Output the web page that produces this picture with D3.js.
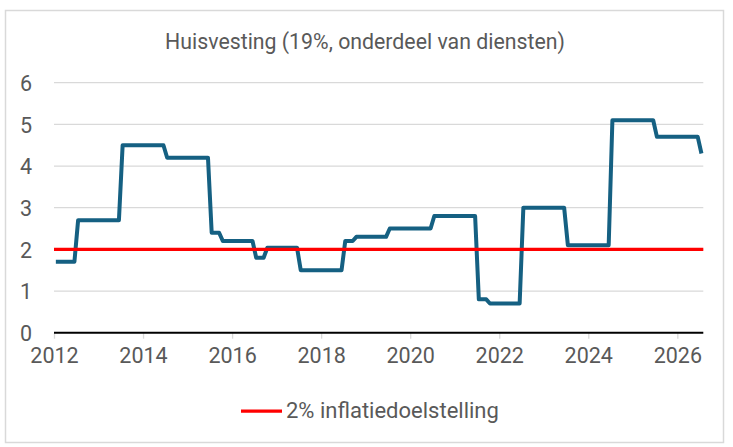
<!DOCTYPE html>
<html>
<head>
<meta charset="utf-8">
<script src="https://cdn.jsdelivr.net/npm/d3@7"></script>
<style>
  html, body { margin: 0; padding: 0; background: #fff; }
  svg { display: block; }
  text { font-family: Roboto, "Open Sans", sans-serif; fill: #595959; }
</style>
</head>
<body>
<svg id="chart"></svg>
<script>
// Monthly values, Jan 2012 - Jul 2026 (one row per year)
const housing = [
  1.7, 1.7, 1.7, 1.7, 1.7, 1.7, 2.7, 2.7, 2.7, 2.7, 2.7, 2.7,
  2.7, 2.7, 2.7, 2.7, 2.7, 2.7, 4.5, 4.5, 4.5, 4.5, 4.5, 4.5,
  4.5, 4.5, 4.5, 4.5, 4.5, 4.5, 4.2, 4.2, 4.2, 4.2, 4.2, 4.2,
  4.2, 4.2, 4.2, 4.2, 4.2, 4.2, 2.4, 2.4, 2.4, 2.2, 2.2, 2.2,
  2.2, 2.2, 2.2, 2.2, 2.2, 2.2, 1.8, 1.8, 1.8, 2.04, 2.04, 2.04,
  2.04, 2.04, 2.04, 2.04, 2.04, 2.04, 1.5, 1.5, 1.5, 1.5, 1.5, 1.5,
  1.5, 1.5, 1.5, 1.5, 1.5, 1.5, 2.2, 2.2, 2.2, 2.3, 2.3, 2.3,
  2.3, 2.3, 2.3, 2.3, 2.3, 2.3, 2.5, 2.5, 2.5, 2.5, 2.5, 2.5,
  2.5, 2.5, 2.5, 2.5, 2.5, 2.5, 2.8, 2.8, 2.8, 2.8, 2.8, 2.8,
  2.8, 2.8, 2.8, 2.8, 2.8, 2.8, 0.8, 0.8, 0.8, 0.7, 0.7, 0.7,
  0.7, 0.7, 0.7, 0.7, 0.7, 0.7, 3.0, 3.0, 3.0, 3.0, 3.0, 3.0,
  3.0, 3.0, 3.0, 3.0, 3.0, 3.0, 2.1, 2.1, 2.1, 2.1, 2.1, 2.1,
  2.1, 2.1, 2.1, 2.1, 2.1, 2.1, 5.1, 5.1, 5.1, 5.1, 5.1, 5.1,
  5.1, 5.1, 5.1, 5.1, 5.1, 5.1, 4.7, 4.7, 4.7, 4.7, 4.7, 4.7,
  4.7, 4.7, 4.7, 4.7, 4.7, 4.7, 4.3
];
const target = 2;
const yearLabels = ["2012", "2014", "2016", "2018", "2020", "2022", "2024", "2026"];
const yTicks = [0, 1, 2, 3, 4, 5, 6];
const title = "Huisvesting (19%, onderdeel van diensten)";
const legendLabel = "2% inflatiedoelstelling";

const width = 733, height = 447;
const plotLeft = 54, plotRight = 703.3, plotTop = 82.7, plotBottom = 332.7;

const svg = d3.select("#chart").attr("width", width).attr("height", height);

// Chart frame
svg.append("rect")
  .attr("x", 5.5).attr("y", 10.5)
  .attr("width", 718).attr("height", 432)
  .attr("fill", "#fff")
  .attr("stroke", "#d9d9d9")
  .attr("stroke-width", 1.5);

const x = d3.scaleLinear().domain([0, housing.length]).range([plotLeft, plotRight]);
const y = d3.scaleLinear().domain([0, 6]).range([plotBottom, plotTop]);

// Gridlines
svg.append("g")
  .selectAll("line")
  .data(yTicks.filter(d => d > 0))
  .join("line")
  .attr("x1", plotLeft).attr("x2", plotRight)
  .attr("y1", d => y(d)).attr("y2", d => y(d))
  .attr("stroke", "#d9d9d9")
  .attr("stroke-width", 1.3);

// Y axis labels
const yAxis = svg.append("g")
  .attr("transform", `translate(${plotLeft},0)`)
  .call(d3.axisLeft(y).tickValues(yTicks).tickFormat(d3.format("d")).tickSize(0).tickPadding(22));
yAxis.select(".domain").remove();
yAxis.selectAll("text")
  .attr("font-size", 21.5)
  .attr("font-family", null)
  .attr("fill", "#595959")
  .attr("dy", "0.36em");

// X axis with tick marks every 24 months
const xAxis = svg.append("g")
  .attr("transform", `translate(0,${plotBottom})`)
  .call(d3.axisBottom(x)
    .tickValues(yearLabels.map((d, i) => i * 24))
    .tickFormat((d, i) => yearLabels[i])
    .tickSize(6)
    .tickPadding(9));
xAxis.select(".domain").remove();
xAxis.selectAll(".tick line").attr("stroke", "#d9d9d9").attr("stroke-width", 1.3);
xAxis.selectAll("text")
  .attr("font-size", 21.5)
  .attr("font-family", null)
  .attr("fill", "#595959");

// Zero baseline
svg.append("line")
  .attr("x1", plotLeft).attr("x2", plotRight)
  .attr("y1", y(0)).attr("y2", y(0))
  .attr("stroke", "#000")
  .attr("stroke-width", 2);

// Housing inflation line
const line = d3.line()
  .x((d, i) => x(i + 0.5))
  .y(d => y(d));

svg.append("path")
  .datum(housing)
  .attr("d", line)
  .attr("fill", "none")
  .attr("stroke", "#156082")
  .attr("stroke-width", 4)
  .attr("stroke-linejoin", "round");

// 2% target line
svg.append("line")
  .attr("x1", plotLeft).attr("x2", plotRight)
  .attr("y1", y(target)).attr("y2", y(target))
  .attr("stroke", "#ff0000")
  .attr("stroke-width", 3.25);

// Title
svg.append("text")
  .attr("x", 365).attr("y", 49)
  .attr("text-anchor", "middle")
  .attr("font-size", 21.3)
  .text(title);

// Legend
svg.append("line")
  .attr("x1", 241).attr("x2", 282)
  .attr("y1", 411).attr("y2", 411)
  .attr("stroke", "#ff0000")
  .attr("stroke-width", 3.25);
svg.append("text")
  .attr("x", 286).attr("y", 418)
  .attr("font-size", 22)
  .text(legendLabel);
</script>
</body>
</html>
